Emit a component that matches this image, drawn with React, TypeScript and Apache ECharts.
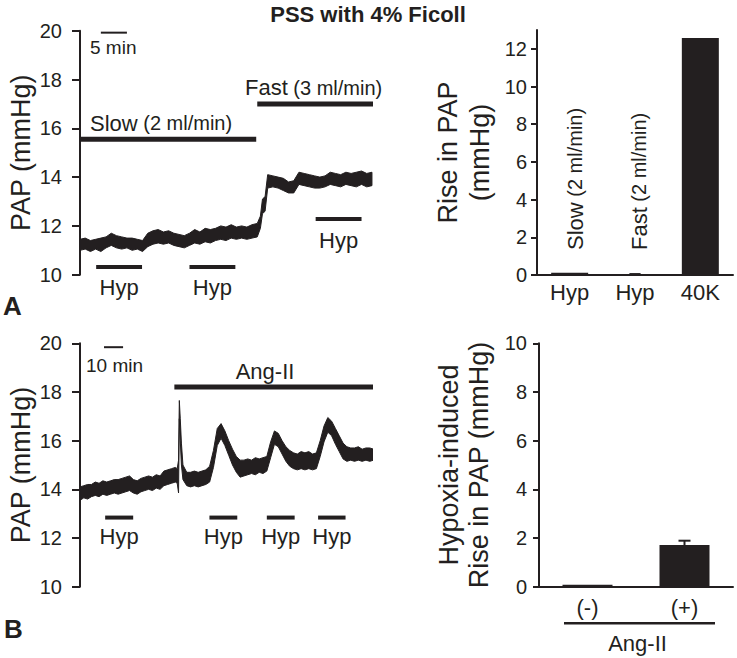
import React, { useEffect, useRef } from "react";
import * as echarts from "echarts";

// ---------------- data ----------------
// Panel A, left: PAP trace (minutes, lower / upper edge of noisy trace, mmHg)
const timeA = [0, 1, 2, 3, 4, 5, 6, 7, 8, 9, 10, 11, 12, 13, 14, 15, 16, 17, 18, 19, 20, 21, 22, 23, 24, 25, 26, 27, 28, 29, 30, 31, 32, 33, 34,
  34.6, 35.0, 35.5, 36,
  37, 38, 39, 40, 41, 42, 43, 44, 45, 46, 47, 48, 49, 50, 51, 52, 53, 54, 55, 56];
const loA = [11.0, 11.05, 10.95, 11.05, 10.95, 11.1, 11.2, 11.1, 11.05, 11.1, 11.0, 11.05, 10.95, 11.15, 11.25, 11.3, 11.25, 11.3, 11.2, 11.15, 11.1, 11.2, 11.3, 11.25, 11.35, 11.3, 11.4, 11.45, 11.4, 11.5, 11.45, 11.5, 11.45, 11.5, 11.55,
  11.9, 12.5, 12.6, 13.55,
  13.6, 13.55, 13.45, 13.35, 13.35, 13.7, 13.65, 13.6, 13.55, 13.55, 13.6, 13.7, 13.65, 13.6, 13.7, 13.65, 13.6, 13.7, 13.6, 13.65];
const hiA = [11.45, 11.5, 11.4, 11.45, 11.5, 11.55, 11.7, 11.6, 11.55, 11.5, 11.5, 11.45, 11.4, 11.7, 11.8, 11.85, 11.75, 11.8, 11.7, 11.65, 11.6, 11.7, 11.85, 11.75, 11.9, 11.85, 11.9, 12.0, 11.95, 12.05, 11.95, 12.0, 11.95, 12.05, 12.1,
  12.4, 13.1, 13.2, 14.1,
  14.05, 14.0, 13.95, 13.8, 13.85, 14.2, 14.15, 14.1, 14.05, 14.0, 14.05, 14.2, 14.15, 14.1, 14.2, 14.15, 14.2, 14.25, 14.15, 14.2];
const slowBarA = [[0, 33.8, 15.55]]; // [start min, end min, level mmHg]
const fastBarA = [[34.0, 56.2, 17.0]];
const hypBarsA = [[3.1, 11.9, 10.32], [21.0, 29.8, 10.32], [45.2, 54.0, 12.28]];
const scaleBarA = [[4, 9, 19.92]]; // 5 min
const papTicks = [10, 12, 14, 16, 18, 20];

// Panel A, right: rise in PAP
const riseCats = ["slowHyp", "fastHyp", "40K"];
const riseTickLabels = ["Hyp", "Hyp", "40K"];
const riseValues = [0.12, 0.1, 12.57];
const riseTicks = [0, 2, 4, 6, 8, 10, 12];

// Panel B, left: PAP trace with Ang-II
const timeB = [0, 2, 4, 6, 8, 10, 12, 14, 16, 18, 20, 22, 24, 26, 28, 30, 32, 34, 36, 38, 40, 42, 44, 46, 48, 50,
  51, 51.7, 52.1, 52.6, 53.2, 54,
  56, 58, 60, 62, 64, 66, 68,
  70, 72, 74, 76, 78, 80, 82, 84, 86, 88, 90, 92, 94, 96, 98,
  100, 102, 104, 106, 108, 110, 112, 114, 116, 118, 120, 122, 124,
  126, 128, 130, 132, 134, 136, 138, 140, 142, 144, 146, 148, 150, 152, 154];
const loB = [13.55, 13.65, 13.6, 13.7, 13.75, 13.7, 13.8, 13.75, 13.8, 13.85, 13.8, 13.85, 13.9, 13.95, 13.85, 13.8, 13.9, 13.95, 14.0, 13.95, 14.05, 14.0, 14.15, 14.2, 14.25, 14.3,
  14.25, 13.85, 16.9, 16.0, 15.0, 14.4,
  14.15, 14.1, 14.15, 14.1, 14.15, 14.2, 14.3,
  14.9, 15.8, 16.1, 15.8, 15.4, 15.0, 14.7, 14.5, 14.55, 14.6, 14.65, 14.6, 14.7, 14.65, 14.75,
  15.3, 15.85, 15.75, 15.45, 15.15, 14.95, 14.85, 14.8, 14.85, 14.8, 14.85, 14.8, 14.85,
  15.35, 15.95, 16.35, 16.2, 15.85, 15.55, 15.25, 15.15, 15.2, 15.15, 15.2, 15.15, 15.2, 15.15, 15.2];
const hiB = [14.1, 14.15, 14.2, 14.2, 14.3, 14.25, 14.35, 14.3, 14.35, 14.4, 14.4, 14.45, 14.5, 14.55, 14.4, 14.35, 14.45, 14.5, 14.55, 14.5, 14.6, 14.55, 14.75, 14.8, 14.85, 14.9,
  14.85, 15.2, 17.65, 16.9, 15.9, 15.0,
  14.7, 14.7, 14.75, 14.7, 14.75, 14.8, 14.95,
  15.6, 16.5, 16.7, 16.4, 16.0, 15.65, 15.35, 15.2, 15.2, 15.25, 15.2, 15.3, 15.25, 15.3, 15.35,
  15.95, 16.4, 16.3, 16.0, 15.75, 15.6, 15.5, 15.45, 15.55, 15.5, 15.55, 15.45, 15.5,
  16.0, 16.6, 16.95, 16.8, 16.5, 16.2, 15.9, 15.75, 15.7, 15.7, 15.75, 15.65, 15.7, 15.7, 15.65];
const angBarB = [[49.5, 153.7, 18.2]];
const hypBarsB = [[13.2, 27.9, 12.84], [67.9, 82.5, 12.84], [98.0, 112.6, 12.84], [124.9, 139.3, 12.84]];
const scaleBarB = [[12.6, 22.6, 19.84]]; // 10 min

// Panel B, right: hypoxia-induced rise
const angCats = ["(-)", "(+)"];
const hypoxiaRise = [0.08, 1.71];
const hypoxiaErr = [0, 0.18];
const hypoxiaTicks = [0, 2, 4, 6, 8, 10];

// ---------------- styling ----------------
const INK = "#231f20";
const SANS = '"Liberation Sans", Arial, Helvetica, sans-serif';

function bandSeries(times: number[], lo: number[], hi: number[], axis: number) {
  return {
    type: "custom",
    xAxisIndex: axis,
    yAxisIndex: axis,
    clip: true,
    silent: true,
    data: [[times[0], lo[0]]],
    renderItem: (_p: any, api: any) => {
      const upper = times.map((t, i) => api.coord([t, hi[i]]));
      const lower = times.map((t, i) => api.coord([t, lo[i]])).reverse();
      return {
        type: "polygon",
        shape: { points: upper.concat(lower) },
        style: { fill: INK, stroke: INK, lineWidth: 1 },
      };
    },
  };
}

function segmentSeries(segs: number[][], axis: number, width: number, label?: string, labelOffset = 20) {
  return {
    type: "custom",
    xAxisIndex: axis,
    yAxisIndex: axis,
    silent: true,
    data: segs,
    renderItem: (_p: any, api: any) => {
      const a = api.coord([api.value(0), api.value(2)]);
      const b = api.coord([api.value(1), api.value(2)]);
      const children: any[] = [
        {
          type: "line",
          shape: { x1: a[0], y1: a[1], x2: b[0], y2: b[1] },
          style: { stroke: INK, lineWidth: width, lineCap: "butt" },
        },
      ];
      if (label) {
        children.push({
          type: "text",
          x: (a[0] + b[0]) / 2,
          y: a[1] + labelOffset,
          style: {
            text: label, font: `22px ${SANS}`, fill: INK,
            align: "center", verticalAlign: "middle", textAlign: "center", textVerticalAlign: "middle",
          },
        });
      }
      return { type: "group", children };
    },
  };
}

function papYAxis(grid: number, name: string) {
  return {
    type: "value",
    gridIndex: grid,
    min: papTicks[0],
    max: papTicks[papTicks.length - 1],
    interval: 2,
    axisLine: { show: true, lineStyle: { color: INK, width: 2 } },
    axisTick: { show: true, length: 8, lineStyle: { color: INK, width: 2 }, customValues: papTicks },
    axisLabel: { color: INK, fontFamily: SANS, fontSize: 20, margin: 18, customValues: papTicks },
    splitLine: { show: false },
    name,
    nameLocation: "middle",
    nameRotate: 90,
    nameGap: 42,
    nameTextStyle: { color: INK, fontFamily: SANS, fontSize: 27, lineHeight: 30 },
  };
}

function barYAxis(grid: number, max: number, ticks: number[], name: string, gap: number, lh: number, margin: number) {
  return {
    type: "value",
    gridIndex: grid,
    min: 0,
    max,
    axisLine: { show: true, lineStyle: { color: INK, width: 2 } },
    axisTick: { show: true, length: 6, lineStyle: { color: INK, width: 2 }, customValues: ticks },
    axisLabel: { color: INK, fontFamily: SANS, fontSize: 20, margin, customValues: ticks },
    splitLine: { show: false },
    name,
    nameLocation: "middle",
    nameRotate: 90,
    nameGap: gap,
    nameTextStyle: { color: INK, fontFamily: SANS, fontSize: 27, lineHeight: lh, align: "center" },
  };
}

function txt(text: string, x: number, y: number, font: string, align = "left") {
  return {
    type: "text",
    x, y,
    style: {
      text, font, fill: INK,
      align, verticalAlign: "middle", textAlign: align, textVerticalAlign: "middle",
    },
  };
}

const richFlow = {
  a: { fontSize: 22, fontFamily: SANS, fill: INK, color: INK },
  b: { fontSize: 20, fontFamily: SANS, fill: INK, color: INK },
};

function flowText(text: string, x: number, y: number, rotated: boolean) {
  return {
    type: "text", x, y, rotation: rotated ? Math.PI / 2 : 0,
    style: { text, rich: richFlow, fill: INK, align: "left", verticalAlign: "middle", textAlign: "left", textVerticalAlign: "middle" },
  };
}

export default function App() {
  const ref = useRef<HTMLDivElement>(null);
  useEffect(() => {
    if (!ref.current) return;
    const chart = echarts.init(ref.current, undefined, { renderer: "svg" });
    const option: any = {
      animation: false,
      backgroundColor: "#ffffff",
      grid: [
        { left: 80, top: 30.7, width: 293, height: 244 },
        { left: 537, top: 30, width: 196, height: 245 },
        { left: 80, top: 343.3, width: 293, height: 243.4 },
        { left: 539, top: 343.3, width: 194, height: 243.4 },
      ],
      xAxis: [
        { type: "value", gridIndex: 0, min: 0, max: 56.2, show: false },
        {
          type: "category", gridIndex: 1, data: riseCats,
          axisLine: { lineStyle: { color: INK, width: 2 } },
          axisTick: { show: false },
          axisLabel: {
            color: INK, fontFamily: SANS, fontSize: 22, margin: 6, interval: 0,
            formatter: (_v: string, i: number) => riseTickLabels[i],
          },
        },
        { type: "value", gridIndex: 2, min: 0, max: 153.7, show: false },
        {
          type: "category", gridIndex: 3, data: angCats,
          axisLine: { lineStyle: { color: INK, width: 2 } },
          axisTick: { show: false },
          axisLabel: { color: INK, fontFamily: SANS, fontSize: 22, margin: 10, interval: 0 },
        },
      ],
      yAxis: [
        papYAxis(0, "PAP (mmHg)"),
        barYAxis(1, 13, riseTicks, "Rise in PAP\n(mmHg)", 41, 32, 10),
        papYAxis(2, "PAP (mmHg)"),
        barYAxis(3, 10, hypoxiaTicks, "Hypoxia-induced\nRise in PAP (mmHg)", 45, 30, 12),
      ],
      series: [
        bandSeries(timeA, loA, hiA, 0),
        segmentSeries(slowBarA, 0, 5),
        segmentSeries(fastBarA, 0, 5),
        segmentSeries(hypBarsA, 0, 4, "Hyp", 21),
        segmentSeries(scaleBarA, 0, 2),
        {
          type: "bar", xAxisIndex: 1, yAxisIndex: 1, barWidth: 37,
          data: riseValues.map((v, i) => (i === 1 ? "-" : v)),
          itemStyle: { color: INK },
        },
        {
          type: "pictorialBar", xAxisIndex: 1, yAxisIndex: 1,
          symbol: "rect", symbolSize: [11, "100%"],
          data: riseValues.map((v, i) => (i === 1 ? v : "-")),
          itemStyle: { color: INK },
        },
        bandSeries(timeB, loB, hiB, 2),
        segmentSeries(angBarB, 2, 5),
        segmentSeries(hypBarsB, 2, 4, "Hyp", 19),
        segmentSeries(scaleBarB, 2, 2),
        {
          type: "bar", xAxisIndex: 3, yAxisIndex: 3, barWidth: 50,
          data: hypoxiaRise,
          itemStyle: { color: INK },
        },
        {
          type: "custom", xAxisIndex: 3, yAxisIndex: 3,
          data: angCats.map((_c, i) => [i, hypoxiaRise[i], hypoxiaErr[i]]).filter((d) => d[2] > 0),
          renderItem: (_p: any, api: any) => {
            const base = api.coord([api.value(0), api.value(1)]);
            const top = api.coord([api.value(0), api.value(1) + api.value(2)]);
            return {
              type: "group",
              children: [
                { type: "line", shape: { x1: base[0], y1: base[1], x2: top[0], y2: top[1] }, style: { stroke: INK, lineWidth: 2 } },
                { type: "line", shape: { x1: top[0] - 6, y1: top[1], x2: top[0] + 6, y2: top[1] }, style: { stroke: INK, lineWidth: 2 } },
              ],
            };
          },
        },
      ],
      graphic: [
        txt("PSS with 4% Ficoll", 368, 14.7, `bold 22px ${SANS}`, "center"),
        txt("A", 3, 305.5, `bold 26px ${SANS}`),
        txt("B", 4, 628.5, `bold 26px ${SANS}`),
        txt("5 min", 90, 47, `19px ${SANS}`),
        txt("10 min", 86, 365.5, `19px ${SANS}`),
        txt("Ang-II", 265, 371.5, `22px ${SANS}`, "center"),
        flowText("{a|Slow}{b| (2 ml/min)}", 90, 123, false),
        flowText("{a|Fast}{b| (3 ml/min)}", 245, 87.5, false),
        flowText("{a|Slow}{b| (2 ml/min)}", 575, 250, true),
        flowText("{a|Fast}{b| (2 ml/min)}", 639, 250, true),
        { type: "line", shape: { x1: 564, y1: 623.3, x2: 715, y2: 623.3 }, style: { stroke: INK, lineWidth: 2.5 } },
        txt("Ang-II", 637.5, 643, `22px ${SANS}`, "center"),
      ],
    };
    chart.setOption(option);
    return () => chart.dispose();
  }, []);
  return (
    <div
      ref={ref}
      style={{ position: "absolute", left: 0, top: 0, width: 737, height: 658, background: "#fff" }}
    />
  );
}
